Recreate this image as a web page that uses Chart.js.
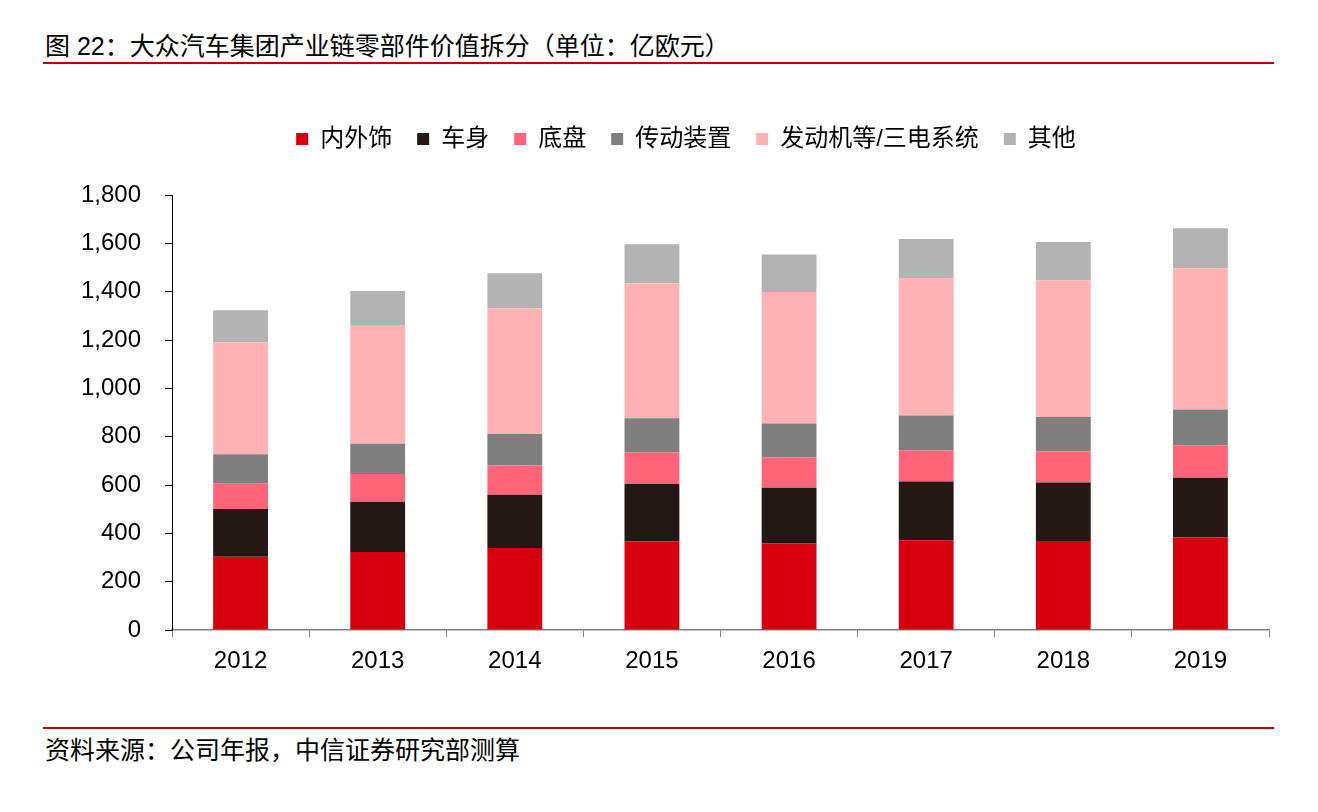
<!DOCTYPE html>
<html>
<head>
<meta charset="utf-8">
<script src="https://cdn.jsdelivr.net/npm/chart.js@4.4.1/dist/chart.umd.min.js"></script>
<style>
  html, body { margin: 0; padding: 0; background: #ffffff; }
  body { width: 1318px; height: 812px; position: relative; overflow: hidden;
         font-family: "Liberation Sans", "Noto Sans CJK SC", sans-serif; color: #000; }
  #title { position: absolute; left: 45px; top: 31px; font-size: 25px; line-height: 30px; white-space: nowrap; }
  #topline { position: absolute; left: 43px; top: 62px; width: 1231px; height: 2px; background: #C00000; }
  #botline { position: absolute; left: 43px; top: 727px; width: 1231px; height: 2px; background: #C00000; }
  #source { position: absolute; left: 45px; top: 735px; font-size: 25px; line-height: 30px; white-space: nowrap; }
  #wrap { position: absolute; left: 0; top: 0; width: 1318px; height: 700px; }
</style>
</head>
<body>
<div id="title">图 22：大众汽车集团产业链零部件价值拆分（单位：亿欧元）</div>
<div id="topline"></div>
<div id="wrap"><canvas id="c"></canvas></div>
<div id="botline"></div>
<div id="source">资料来源：公司年报，中信证券研究部测算</div>
<script>
const years = ['2012', '2013', '2014', '2015', '2016', '2017', '2018', '2019'];
const seriesNames = ['内外饰', '车身', '底盘', '传动装置', '发动机等/三电系统', '其他'];
const interior = [303, 323, 339, 367, 359, 371, 368, 383];
const body = [198, 208, 221, 237, 230, 243, 242, 247];
const chassis = [106, 115, 121, 130, 125, 129, 129, 134];
const transmission = [120, 125, 130, 142, 140, 145, 142, 148];
const powertrain = [463, 491, 519, 558, 545, 569, 565, 585];
const others = [133, 141, 146, 162, 155, 161, 160, 165];
const yTickLabels = ['0', '200', '400', '600', '800', '1,000', '1,200', '1,400', '1,600', '1,800'];

const colors = ['#D7000F', '#231815', '#FF6478', '#7F7F7F', '#FFB2B3', '#B3B3B3'];
const seriesValues = [interior, body, chassis, transmission, powertrain, others];

const FONT = '"Liberation Sans", "Noto Sans CJK SC", sans-serif';

const legendSpacer = {
  id: 'legendSpacer',
  beforeInit(chart) {
    const origFit = chart.legend.fit;
    chart.legend.fit = function () {
      origFit.call(chart.legend);
      this.height += 34;
    };
  },
  afterLayout(chart) {
    const lg = chart.legend;
    const shift = 686 - (lg.left + lg.right) / 2;
    lg.left += shift;
    lg.right += shift;
  }
};

new Chart(document.getElementById('c'), {
  type: 'bar',
  data: {
    labels: years,
    datasets: seriesNames.map((name, i) => ({
      label: name,
      data: seriesValues[i],
      backgroundColor: colors[i],
      borderWidth: 0,
      categoryPercentage: 0.4,
      barPercentage: 1.0
    }))
  },
  options: {
    responsive: true,
    maintainAspectRatio: false,
    animation: false,
    devicePixelRatio: 1,
    layout: { padding: { left: 0, right: 49, top: 102, bottom: 0 } },
    plugins: {
      tooltip: { enabled: false },
      legend: {
        position: 'top',
        align: 'center',
        labels: {
          boxWidth: 12,
          boxHeight: 12,
          padding: 25,
          color: '#000',
          font: { family: FONT, size: 24 }
        }
      }
    },
    scales: {
      x: {
        stacked: true,
        offset: true,
        grid: { display: true, drawOnChartArea: false, offset: true, color: '#808080', tickLength: 7, lineWidth: 1 },
        border: { display: true, color: '#808080', width: 1.5 },
        ticks: { color: '#000', font: { family: FONT, size: 24 }, padding: 10, maxRotation: 0 },
        afterFit(scale) { scale.height = 70; }
      },
      y: {
        stacked: true,
        min: 0,
        max: 1800,
        ticks: {
          stepSize: 200,
          color: '#000',
          padding: 24,
          font: { family: FONT, size: 24 },
          callback: (v, i) => yTickLabels[i]
        },
        grid: { display: true, drawOnChartArea: false, color: '#000', tickLength: 7, lineWidth: 1 },
        border: { display: true, color: '#000', width: 1 },
        afterFit(scale) { scale.width = 172; }
      }
    }
  },
  plugins: [legendSpacer]
});
</script>
</body>
</html>
